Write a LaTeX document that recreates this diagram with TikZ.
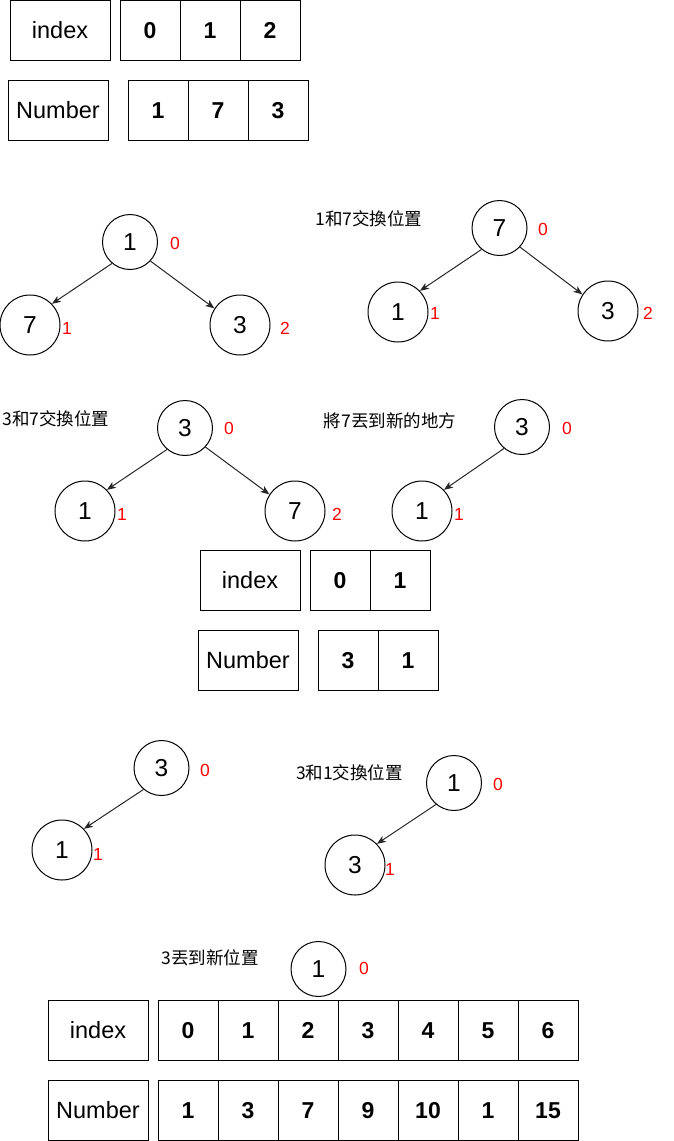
\documentclass[tikz,border=0pt]{standalone}
\usepackage{fontspec}
\setmainfont{Liberation Sans}
\newfontfamily\cjk{Noto Sans CJK TC}
\usetikzlibrary{arrows.meta}
\begin{document}
\begin{tikzpicture}[x=1pt,y=-1pt,
  box/.style={draw, line width=1pt, minimum width=100pt, minimum height=60pt, inner sep=0pt, font=\fontsize{23.5}{27}\selectfont},
  cell/.style={draw, line width=1pt, minimum width=60pt, minimum height=60pt, inner sep=0pt, text height=16.5pt, text depth=0pt, font=\fontsize{23}{27}\selectfont\bfseries},
  rootc/.style={circle, draw, line width=1pt, minimum size=55pt, inner sep=0pt, text height=17.5pt, text depth=0pt, font=\fontsize{24.5}{28}\selectfont},
  kid/.style={rootc, minimum size=60pt},
  idx/.style={text=red, font=\fontsize{17.5}{20}\selectfont, inner sep=0pt},
  note/.style={font=\cjk\fontsize{17.5}{21}\selectfont, inner sep=0pt},
  link/.style={draw=black!85, line width=1pt, -{Stealth[length=9pt,width=7pt,inset=2.5pt]}}
]
\useasboundingbox (0,0) rectangle (674,1141);

% ---------- table 1
\node[box] (i1) at (60,30) {index};
\node[cell] (i1a) at (150,30) {0};
\node[cell] (i1b) at (210,30) {1};
\node[cell] (i1c) at (270,30) {2};
\node[box] (n1) at (58,110) {Number};
\node[cell] (n1a) at (158,110) {1};
\node[cell] (n1b) at (218,110) {7};
\node[cell] (n1c) at (278,110) {3};

% ---------- tree 1
\node[rootc] (t1r) at (130,242) {1};
\node[idx] (t1r0) at (175,243) {0};
\node[kid] (t1a) at (30,325) {7};
\node[idx] (t1a1) at (67,328) {1};
\node[kid] (t1b) at (240,325) {3};
\node[idx] (t1b2) at (285,328) {2};
\draw[link] (t1r.230) -- (t1a.44);
\draw[link] (t1r.317) -- (t1b.147);

% ---------- tree 2
\node[note] (s1) at (369,219) {1和7交換位置};
\node[rootc] (t2r) at (499.5,228) {7};
\node[idx] (t2r0) at (543,229) {0};
\node[kid] (t2a) at (398,312) {1};
\node[idx] (t2a1) at (435,313) {1};
\node[kid] (t2b) at (608,311) {3};
\node[idx] (t2b2) at (648,313) {2};
\draw[link] (t2r.230) -- (t2a.44);
\draw[link] (t2r.317) -- (t2b.147);

% ---------- tree 3
\node[note] (s2) at (56,419) {3和7交換位置};
\node[rootc] (t3r) at (185,428) {3};
\node[idx] (t3r0) at (229,428) {0};
\node[kid] (t3a) at (85,511) {1};
\node[idx] (t3a1) at (122,514) {1};
\node[kid] (t3b) at (295,511) {7};
\node[idx] (t3b2) at (337,514) {2};
\draw[link] (t3r.230) -- (t3a.44);
\draw[link] (t3r.317) -- (t3b.147);

% ---------- tree 4
\node[note] (s3) at (390,421) {將7丟到新的地方};
\node[rootc] (t4r) at (522,427) {3};
\node[idx] (t4r0) at (567,428) {0};
\node[kid] (t4a) at (422,511) {1};
\node[idx] (t4a1) at (459,514) {1};
\draw[link] (t4r.230) -- (t4a.44);

% ---------- table 2
\node[box] (i2) at (250,580) {index};
\node[cell] (i2a) at (340,580) {0};
\node[cell] (i2b) at (400,580) {1};
\node[box] (n2) at (248,660) {Number};
\node[cell] (n2a) at (348,660) {3};
\node[cell] (n2b) at (408,660) {1};

% ---------- tree 5
\node[rootc] (t5r) at (161.5,768) {3};
\node[idx] (t5r0) at (205,770) {0};
\node[kid] (t5a) at (62,850) {1};
\node[idx] (t5a1) at (98,854) {1};
\draw[link] (t5r.230) -- (t5a.44);

% ---------- tree 6
\node[note] (s4) at (349.5,773) {3和1交換位置};
\node[rootc] (t6r) at (454,783) {1};
\node[idx] (t6r0) at (498,784) {0};
\node[kid] (t6a) at (355,865) {3};
\node[idx] (t6a1) at (390,869) {1};
\draw[link] (t6r.230) -- (t6a.44);

% ---------- tree 7
\node[note] (s5) at (210,958) {3丟到新位置};
\node[rootc] (t7r) at (318.5,969) {1};
\node[idx] (t7r0) at (364,968) {0};

% ---------- table 3
\node[box] (i3) at (98,1030) {index};
\node[box] (n3) at (98,1110) {Number};
\foreach \v [count=\k from 0] in {0,1,2,3,4,5,6}
  \node[cell] (i3c\k) at (188+60*\k,1030) {\v};
\foreach \v [count=\k from 0] in {1,3,7,9,10,1,15}
  \node[cell] (n3c\k) at (188+60*\k,1110) {\v};
\end{tikzpicture}
\end{document}
